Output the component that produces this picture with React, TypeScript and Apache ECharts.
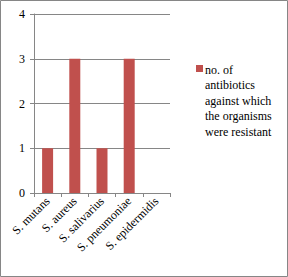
import React, { useEffect, useRef } from "react";
import * as echarts from "echarts";

const categories = ["S. mutans", "S. aureus", "S. salivarius", "S. pneumoniae", "S. epidermidis"];
const values = [1, 3, 1, 3, 0];
const seriesName = "no. of antibiotics against which the organisms were resistant";
const legendLines = ["no. of", "antibiotics", "against which", "the organisms", "were resistant"];
const yTicks = { min: 0, max: 4, interval: 1 };

export default function App() {
  const ref = useRef<HTMLDivElement>(null);
  useEffect(() => {
    const chart = echarts.init(ref.current!, null, { renderer: "svg" });
    const font = "'Liberation Serif', 'Times New Roman', serif";
    chart.setOption({
      animation: false,
      grid: { left: 34, right: 118, top: 14, bottom: 84 },
      xAxis: {
        type: "category",
        data: categories,
        axisLine: { show: true, lineStyle: { color: "#868686", width: 1 } },
        axisTick: { show: true, alignWithLabel: false, length: 4, lineStyle: { color: "#868686" } },
        axisLabel: { rotate: 45, interval: 0, fontFamily: font, fontSize: 12, color: "#000", margin: 6 },
      },
      yAxis: {
        type: "value",
        min: yTicks.min,
        max: yTicks.max,
        interval: yTicks.interval,
        axisLine: { show: true, lineStyle: { color: "#868686", width: 1 } },
        axisTick: { show: true, length: 4, lineStyle: { color: "#868686" } },
        axisLabel: { fontFamily: font, fontSize: 12, color: "#000", margin: 9 },
        splitLine: { show: true, lineStyle: { color: "#868686", width: 1 } },
      },
      series: [
        {
          name: seriesName,
          type: "bar",
          data: values,
          barWidth: 11,
          itemStyle: { color: "#C0504D" },
        },
      ],
      graphic: [
        {
          type: "rect",
          shape: { x: 0.5, y: 0.5, width: 287, height: 276 },
          style: { fill: "none", stroke: "#868686", lineWidth: 1 },
        },
        {
          type: "rect",
          shape: { x: 196, y: 65, width: 7, height: 7 },
          style: { fill: "#C0504D" },
        },
        {
          type: "text",
          x: 205,
          y: 62,
          style: {
            text: legendLines.join("\n"),
            fontFamily: font,
            fontSize: 12,
            lineHeight: 15.5,
            fill: "#000",
          },
        },
      ],
    });
    return () => chart.dispose();
  }, []);
  return (
    <div
      ref={ref}
      style={{ position: "fixed", left: 0, top: 0, width: 288, height: 277, background: "#fff" }}
    />
  );
}
